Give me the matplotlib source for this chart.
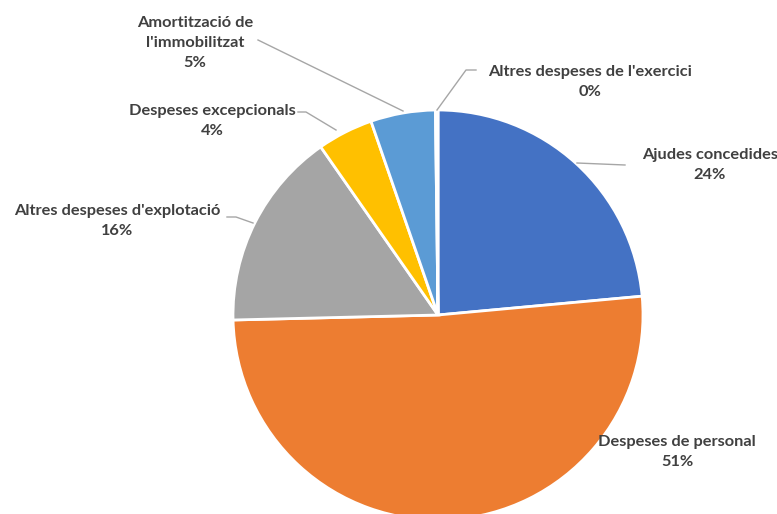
import matplotlib.pyplot as plt

# slices clockwise from 12 o'clock
categories = [
    "Ajudes concedides",
    "Despeses de personal",
    "Altres despeses d'explotació",
    "Despeses excepcionals",
    "Amortització de\nl'immobilitzat",
    "Altres despeses de l'exercici",
]
values = [23.55, 51.1, 15.7, 4.4, 5.1, 0.2]
colors = ["#4472C4", "#ED7D31", "#A5A5A5", "#FFC000", "#5B9BD5", "#70AD47"]

W, H = 777, 514
fig = plt.figure(figsize=(W / 100, H / 100), dpi=100)
ax = fig.add_axes([0, 0, 1, 1])

cx, cy, r = 438, H - 315, 205
ax.pie(values, colors=colors, startangle=90, counterclock=False,
       center=(cx, cy), radius=r,
       wedgeprops=dict(edgecolor="white", linewidth=2))
ax.set_xlim(0, W)
ax.set_ylim(0, H)
ax.set_aspect("equal")
ax.axis("off")

# label centres (pixels from top-left) and leader lines
label_pos = [(710, 165), (677, 452), (117, 221), (212, 121), (195, 43), (590, 82)]
leaders = [
    [(577, 163), (625, 165)],
    None,
    [(227, 217), (236, 217), (253, 223)],
    [(298, 112), (306, 112), (336, 130)],
    [(258, 40), (403, 111)],
    [(476, 70), (466, 70), (437, 110)],
]

total = sum(values)
for name, v, (px, py), ld in zip(categories, values, label_pos, leaders):
    pct = round(v / total * 100)
    ax.text(px, H - py, f"{name}\n{pct}%", ha="center", va="center",
            fontsize=11.8, fontweight="bold", family="Lato", color="#404040",
            linespacing=1.55)
    if ld:
        xs = [p[0] for p in ld]
        ys = [H - p[1] for p in ld]
        ax.plot(xs, ys, color="#A6A6A6", linewidth=1)

fig.savefig("out.png", dpi=100)
